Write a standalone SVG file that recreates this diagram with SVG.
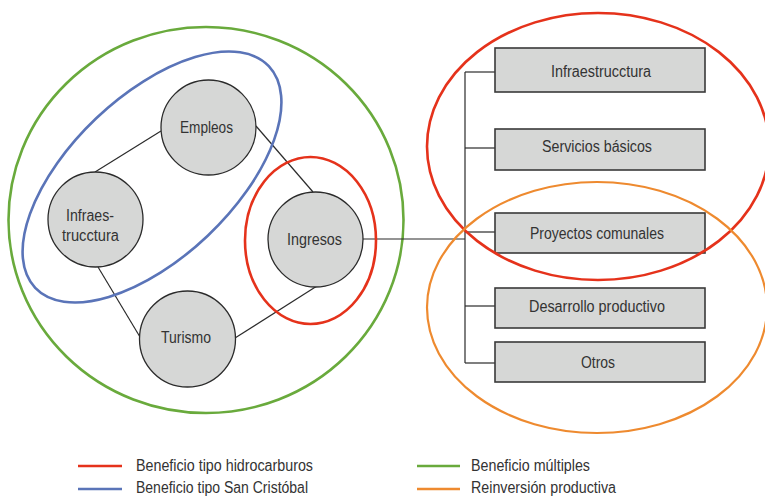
<svg xmlns="http://www.w3.org/2000/svg" width="765" height="497" viewBox="0 0 765 497">
<style>
text{font-family:"Liberation Sans",Arial,sans-serif;font-size:16px;fill:#333;text-anchor:middle}
.leg{text-anchor:start}
.node circle{fill:#d6d7d6;stroke:#2b2b2b;stroke-width:1.3}
.box rect{fill:#d6d7d6;stroke:#3a3a3a;stroke-width:1.6}
.conn line,.conn polyline{stroke:#2b2b2b;stroke-width:1.2;fill:none}
.red{stroke:#e5321b;fill:none;stroke-width:2.6}
.blue{stroke:#5a74b8;fill:none;stroke-width:2.6}
.green{stroke:#69aa3c;fill:none;stroke-width:2.6}
.orange{stroke:#ee8a2f;fill:none;stroke-width:2.2}
</style>
<rect width="765" height="497" fill="#fff"/>
<g id="group-multiples"><ellipse class="green" cx="206" cy="220" rx="197.5" ry="193"/></g>
<g class="conn" id="connectors">
<line x1="161" y1="131" x2="95" y2="172"/>
<line x1="256" y1="126" x2="313" y2="192"/>
<line x1="98" y1="267" x2="140" y2="337"/>
<line x1="235" y1="338" x2="317" y2="286"/>
<line x1="363" y1="239" x2="465" y2="239"/>
<line x1="465" y1="72" x2="465" y2="363"/>
<line x1="465" y1="72" x2="495" y2="72"/>
<line x1="465" y1="148" x2="495" y2="148"/>
<line x1="465" y1="232" x2="495" y2="232"/>
<line x1="465" y1="306" x2="495" y2="306"/>
<line x1="465" y1="363" x2="495" y2="363"/>
</g>
<g class="node" id="n-empleos"><circle cx="208.5" cy="127.5" r="47.5"/><text x="206.5" y="133" textLength="53" lengthAdjust="spacingAndGlyphs">Empleos</text></g>
<g class="node" id="n-infra"><circle cx="95.5" cy="219.5" r="47.5"/><text x="90" y="221" textLength="48" lengthAdjust="spacingAndGlyphs">Infraes-</text><text x="90.5" y="241" textLength="57" lengthAdjust="spacingAndGlyphs">trucctura</text></g>
<g class="node" id="n-ingresos"><circle cx="315.5" cy="239.5" r="47.5"/><text x="314.5" y="245" textLength="55" lengthAdjust="spacingAndGlyphs">Ingresos</text></g>
<g class="node" id="n-turismo"><circle cx="187.5" cy="339" r="48"/><text x="186" y="343" textLength="50" lengthAdjust="spacingAndGlyphs">Turismo</text></g>
<g id="group-sancristobal"><ellipse class="blue" cx="152" cy="177" rx="161" ry="81" transform="rotate(-43.5 152 177)"/></g>
<g id="group-hidro-left"><ellipse class="red" cx="310.5" cy="240.5" rx="65.5" ry="83.5"/></g>
<g class="box" id="b-infra"><rect x="495" y="48" width="210" height="44"/><text x="601" y="77" textLength="100" lengthAdjust="spacingAndGlyphs">Infraestrucctura</text></g>
<g class="box" id="b-servicios"><rect x="495" y="129" width="210" height="41"/><text x="597" y="152" textLength="110" lengthAdjust="spacingAndGlyphs">Servicios básicos</text></g>
<g class="box" id="b-proyectos"><rect x="495" y="213" width="210" height="40"/><text x="597" y="239" textLength="134" lengthAdjust="spacingAndGlyphs">Proyectos comunales</text></g>
<g class="box" id="b-desarrollo"><rect x="495" y="288" width="210" height="40"/><text x="597" y="312" textLength="136" lengthAdjust="spacingAndGlyphs">Desarrollo productivo</text></g>
<g class="box" id="b-otros"><rect x="495" y="342" width="210" height="40"/><text x="598" y="368" textLength="34" lengthAdjust="spacingAndGlyphs">Otros</text></g>
<g id="group-hidro-right"><ellipse class="red" cx="598" cy="146.5" rx="171" ry="133.5"/></g>
<g id="group-reinversion"><ellipse class="orange" cx="597" cy="307.5" rx="170" ry="125.5"/></g>
<g id="legend">
<line class="red" x1="78" y1="466" x2="122" y2="466"/>
<text class="leg" x="136" y="471" textLength="177" lengthAdjust="spacingAndGlyphs">Beneficio tipo hidrocarburos</text>
<line class="blue" x1="78" y1="489" x2="122" y2="489"/>
<text class="leg" x="136" y="493" textLength="172" lengthAdjust="spacingAndGlyphs">Beneficio tipo San Cristóbal</text>
<line class="green" x1="417" y1="466" x2="460" y2="466"/>
<text class="leg" x="471" y="471" textLength="119" lengthAdjust="spacingAndGlyphs">Beneficio múltiples</text>
<line class="orange" x1="417" y1="489" x2="460" y2="489" style="stroke-width:2.6"/>
<text class="leg" x="471" y="493" textLength="145" lengthAdjust="spacingAndGlyphs">Reinversión productiva</text>
</g>
</svg>
